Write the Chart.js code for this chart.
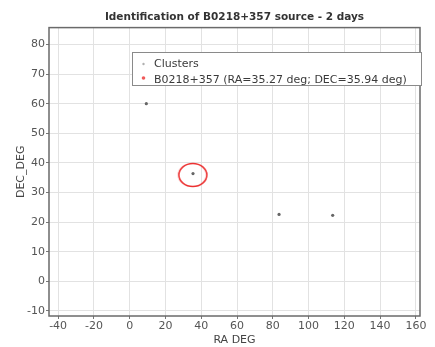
<!DOCTYPE html>
<html><head><meta charset="utf-8">
<script src="https://cdn.jsdelivr.net/npm/chart.js@4/dist/chart.umd.min.js"></script>
<style>html,body{margin:0;padding:0;background:#fff}canvas{display:block}</style>
</head><body>
<canvas id="c" width="435" height="347"></canvas>
<script>
const chartTitle = "Identification of B0218+357 source - 2 days";
const xTitle = "RA DEG";
const yTitle = "DEC_DEG";
const clusterLabel = "Clusters";
const sourceLabel = "B0218+357 (RA=35.27 deg; DEC=35.94 deg)";
const clusterRA = [9.3, 35.4, 83.5, 113.5];
const clusterDEC = [60.0, 36.4, 22.6, 22.3];
const sourceRA = [35.27];
const sourceDEC = [35.94];
const xTicks = [-40, -20, 0, 20, 40, 60, 80, 100, 120, 140, 160];
const yTicks = [-10, 0, 10, 20, 30, 40, 50, 60, 70, 80];

const FONT = "'DejaVu Sans', sans-serif";

// ellipse ring marker for the source
const ring = document.createElement('canvas');
ring.width = 32; ring.height = 28;
(function(){
  const g = ring.getContext('2d');
  g.strokeStyle = 'rgb(236,50,50)';
  g.lineWidth = 1.6;
  g.beginPath();
  g.ellipse(16, 14, 14, 11.5, 0, 0, Math.PI * 2);
  g.stroke();
})();

const boxPlugin = {
  id: 'boxPlugin',
  afterDraw(chart) {
    const ctx = chart.ctx;
    const a = chart.chartArea;
    ctx.save();
    ctx.strokeStyle = '#6a6a6a';
    ctx.lineWidth = 1.5;
    ctx.strokeRect(a.left, a.top, a.right - a.left, a.bottom - a.top);
    // legend box
    const lx = 132.5, ly = 52.5, lw = 289, lh = 33;
    ctx.fillStyle = '#fff';
    ctx.fillRect(lx, ly, lw, lh);
    ctx.strokeStyle = '#8a8a8a';
    ctx.lineWidth = 1;
    ctx.strokeRect(lx, ly, lw, lh);
    ctx.font = '11px ' + FONT;
    ctx.textBaseline = 'middle';
    ctx.textAlign = 'left';
    ctx.fillStyle = '#b0b0b0';
    ctx.beginPath(); ctx.arc(143.5, 64, 1.2, 0, Math.PI * 2); ctx.fill();
    ctx.fillStyle = 'rgb(240,90,90)';
    ctx.beginPath(); ctx.arc(143.5, 78, 1.8, 0, Math.PI * 2); ctx.fill();
    ctx.fillStyle = '#3a3a3a';
    ctx.fillText(chart.data.datasets[0].label, 154, 64);
    ctx.fillText(chart.data.datasets[1].label, 154, 80);
    ctx.restore();
  }
};

new Chart(document.getElementById('c'), {
  type: 'scatter',
  data: {
    datasets: [
      {
        label: clusterLabel,
        data: clusterRA.map((x, i) => ({x, y: clusterDEC[i]})),
        pointRadius: 1.6,
        pointBackgroundColor: '#666',
        pointBorderWidth: 0,
        order: 1
      },
      {
        label: sourceLabel,
        data: sourceRA.map((x, i) => ({x, y: sourceDEC[i]})),
        pointStyle: ring,
        pointRadius: 14,
        order: 2
      }
    ]
  },
  options: {
    responsive: false,
    animation: false,
    events: [],
    layout: { padding: { left: 0, right: 5, top: 0, bottom: 0 } },
    plugins: {
      legend: { display: false },
      tooltip: { enabled: false },
      title: {
        display: true,
        fullSize: false,
        text: chartTitle,
        color: '#333',
        font: { family: FONT, size: 10.5, weight: 'bold' },
        padding: { top: 11, bottom: 4 }
      }
    },
    scales: {
      x: {
        type: 'linear',
        min: -45.1, max: 162.3,
        afterFit: s => { s.height = 31; },
        afterBuildTicks: s => { s.ticks = xTicks.map(v => ({value: v})); },
        grid: { color: '#e2e2e2', tickColor: '#777', tickLength: 3, lineWidth: 1 },
        border: { display: false },
        ticks: { color: '#555', font: { family: FONT, size: 11 }, padding: 1, maxRotation: 0, autoSkip: false },
        title: { display: true, text: xTitle, color: '#444', font: { family: FONT, size: 11 }, padding: { top: 0, bottom: 0 } }
      },
      y: {
        type: 'linear',
        min: -11.7, max: 85.7,
        afterFit: s => { s.width = 49; },
        afterBuildTicks: s => { s.ticks = yTicks.map(v => ({value: v})); },
        grid: { color: '#e2e2e2', tickColor: '#777', tickLength: 3, lineWidth: 1 },
        border: { display: false },
        ticks: { color: '#555', font: { family: FONT, size: 11 }, padding: 1, autoSkip: false },
        title: { display: true, text: yTitle, color: '#444', font: { family: FONT, size: 11 }, padding: { top: 15, bottom: 0 } }
      }
    }
  },
  plugins: [boxPlugin]
});
</script>
</body></html>
